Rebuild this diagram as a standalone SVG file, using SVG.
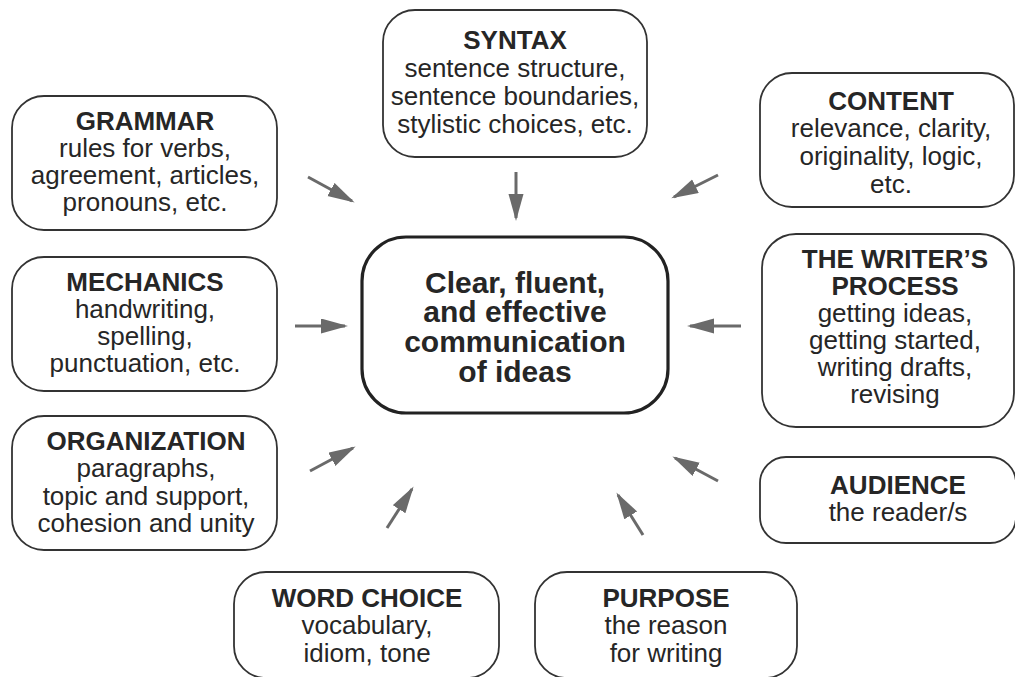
<svg xmlns="http://www.w3.org/2000/svg" width="1015" height="677" viewBox="0 0 1015 677">
<defs>
<style>
.box{fill:#fff;stroke:#333;stroke-width:1.8}
.main{fill:#fff;stroke:#222;stroke-width:3.2}
text{font-family:"Liberation Sans",Arial,sans-serif;fill:#262626;text-anchor:middle;font-size:26px}
.t{font-weight:bold}
.m{font-weight:bold;font-size:30px}
.arr{stroke:#6a6a6a;stroke-width:3;fill:none;marker-end:url(#ah)}
</style>
<marker id="ah" markerUnits="userSpaceOnUse" markerWidth="28" markerHeight="16" refX="24" refY="7.5" orient="auto">
<path d="M0,0 L27,7.5 L0,15 z" fill="#6a6a6a"/>
</marker>
</defs>
<rect width="1015" height="677" fill="#fff"/>
<g id="connectors">
<line class="arr" x1="308" y1="177" x2="352" y2="201"/>
<line class="arr" x1="516" y1="172" x2="516" y2="218"/>
<line class="arr" x1="718" y1="175" x2="674" y2="197"/>
<line class="arr" x1="295" y1="326" x2="345" y2="326"/>
<line class="arr" x1="741" y1="326" x2="690" y2="326"/>
<line class="arr" x1="310" y1="471" x2="353" y2="448"/>
<line class="arr" x1="387" y1="528" x2="412" y2="489"/>
<line class="arr" x1="643" y1="535" x2="618" y2="495"/>
<line class="arr" x1="718" y1="481" x2="675" y2="458"/>
</g>
<g id="center">
<rect class="main" x="362" y="237" width="306" height="176" rx="44"/>
<text class="m" x="515" y="293">Clear, fluent,</text>
<text class="m" x="515" y="322">and effective</text>
<text class="m" x="515" y="352">communication</text>
<text class="m" x="515" y="382">of ideas</text>
</g>
<g id="syntax">
<rect class="box" x="383" y="10" width="264" height="147" rx="32"/>
<text class="t" x="515" y="49">SYNTAX</text>
<text x="515" y="77">sentence structure,</text>
<text x="515" y="105">sentence boundaries,</text>
<text x="515" y="133">stylistic choices, etc.</text>
</g>
<g id="grammar">
<rect class="box" x="12" y="96" width="265" height="134" rx="32"/>
<text class="t" x="145" y="130">GRAMMAR</text>
<text x="145" y="157">rules for verbs,</text>
<text x="145" y="184">agreement, articles,</text>
<text x="145" y="211">pronouns, etc.</text>
</g>
<g id="content">
<rect class="box" x="760" y="73" width="254" height="134" rx="32"/>
<text class="t" x="891" y="110">CONTENT</text>
<text x="891" y="137">relevance, clarity,</text>
<text x="891" y="165">originality, logic,</text>
<text x="891" y="193">etc.</text>
</g>
<g id="mechanics">
<rect class="box" x="12" y="257" width="265" height="134" rx="32"/>
<text class="t" x="145" y="291">MECHANICS</text>
<text x="145" y="318">handwriting,</text>
<text x="145" y="345">spelling,</text>
<text x="145" y="372">punctuation, etc.</text>
</g>
<g id="writers-process">
<rect class="box" x="762" y="234" width="252" height="193" rx="34"/>
<text class="t" x="895" y="268">THE WRITER’S</text>
<text class="t" x="895" y="295">PROCESS</text>
<text x="895" y="322">getting ideas,</text>
<text x="895" y="349">getting started,</text>
<text x="895" y="376">writing drafts,</text>
<text x="895" y="403">revising</text>
</g>
<g id="organization">
<rect class="box" x="12" y="416" width="265" height="134" rx="32"/>
<text class="t" x="146" y="450">ORGANIZATION</text>
<text x="146" y="477">paragraphs,</text>
<text x="146" y="505">topic and support,</text>
<text x="146" y="532">cohesion and unity</text>
</g>
<g id="audience">
<rect class="box" x="760" y="457" width="256" height="86" rx="26"/>
<text class="t" x="898" y="494">AUDIENCE</text>
<text x="898" y="521">the reader/s</text>
</g>
<g id="word-choice">
<rect class="box" x="234" y="572" width="265" height="106" rx="32"/>
<text class="t" x="367" y="607">WORD CHOICE</text>
<text x="367" y="634">vocabulary,</text>
<text x="367" y="662">idiom, tone</text>
</g>
<g id="purpose">
<rect class="box" x="535" y="572" width="262" height="106" rx="32"/>
<text class="t" x="666" y="607">PURPOSE</text>
<text x="666" y="634">the reason</text>
<text x="666" y="662">for writing</text>
</g>
</svg>
